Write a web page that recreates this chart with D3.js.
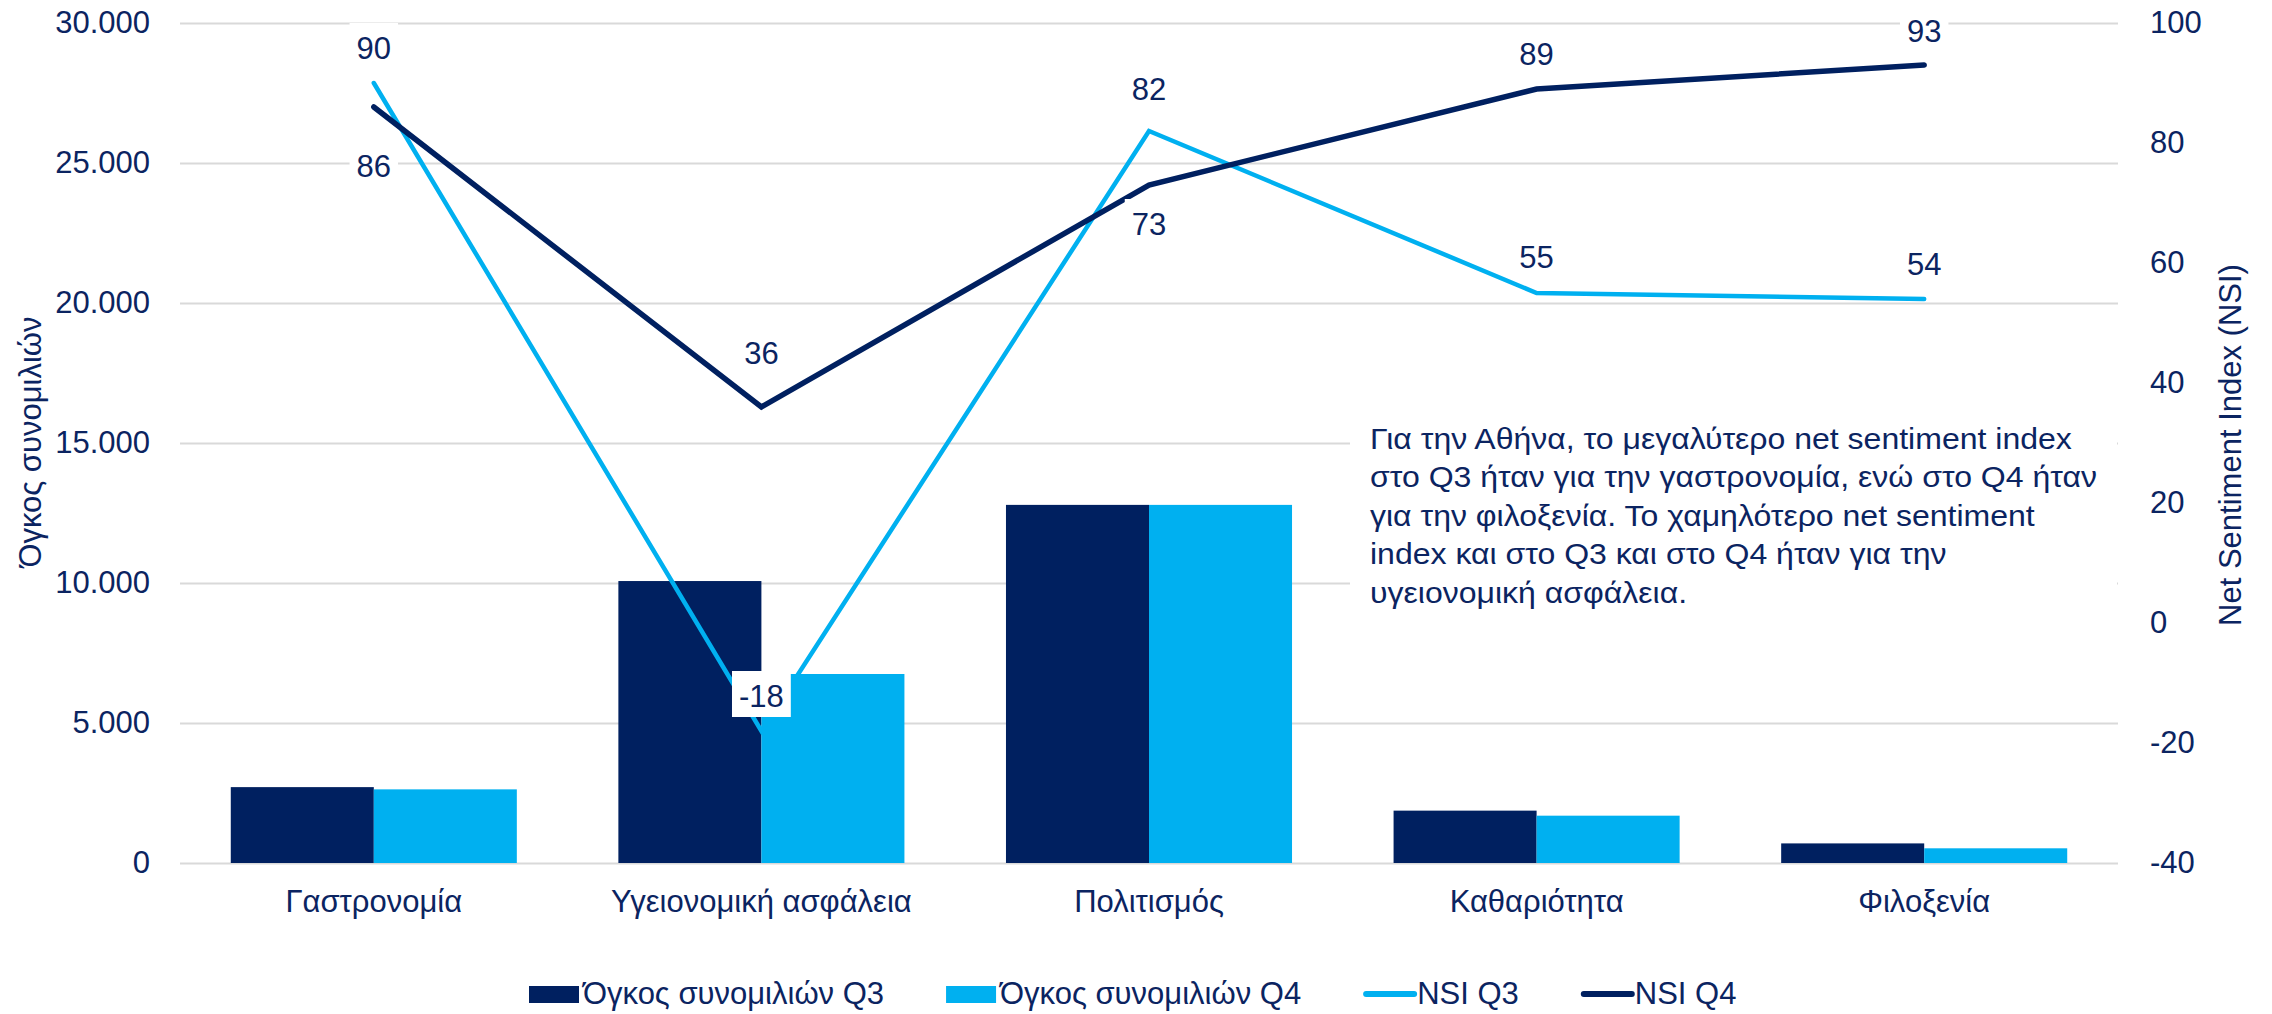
<!DOCTYPE html>
<html>
<head>
<meta charset="utf-8">
<script src="https://cdn.jsdelivr.net/npm/d3@7"></script>
<style>
  html, body { margin: 0; padding: 0; background: #ffffff; }
  svg { display: block; }
  text { font-family: "Liberation Sans", Arial, sans-serif; }
</style>
</head>
<body>
<div id="chart"></div>
<script>
// ---------- data ----------
const categories = ["Γαστρονομία", "Υγειονομική ασφάλεια", "Πολιτισμός", "Καθαριότητα", "Φιλοξενία"];
const volumeQ3 = [2710, 10070, 12790, 1870, 700];
const volumeQ4 = [2630, 6750, 12790, 1690, 525];
const nsiQ3 = [90, -18, 82, 55, 54];
const nsiQ4 = [86, 36, 73, 89, 93];
const leftTicks = [0, 5000, 10000, 15000, 20000, 25000, 30000];
const rightTicks = [-40, -20, 0, 20, 40, 60, 80, 100];
const seriesNames = ["Όγκος συνομιλιών Q3", "Όγκος συνομιλιών Q4", "NSI Q3", "NSI Q4"];
const leftTitle = "Όγκος συνομιλιών";
const rightTitle = "Net Sentiment Index (NSI)";
const annotationLines = [
  "Για την Αθήνα, το μεγαλύτερο net sentiment index",
  "στο Q3 ήταν για την γαστρονομία, ενώ στο Q4 ήταν",
  "για την φιλοξενία. Το χαμηλότερο net sentiment",
  "index και στο Q3 και στο Q4 ήταν για την",
  "υγειονομική ασφάλεια."
];

// ---------- layout / styles ----------
// label placement: baseline offset (px) from the point, as placed in the original
const nsiQ3LabelDy = [-24, -24, -31, -25, -24];
const nsiQ4LabelDy = [70, -43, 50, -24, -23];

const W = 2272, H = 1014;
const plot = { left: 180, right: 2118, top: 23, bottom: 863 };
const NAVY = "#002060";
const LIGHT = "#00B0F0";
const TEXT = "#0B2461";
const GRID = "#D9D9D9";
const FS = 31;
const FF = '"Liberation Sans", Arial, sans-serif';

const svg = d3.select("#chart").append("svg").attr("width", W).attr("height", H);

const x0 = d3.scaleBand().domain(categories).range([plot.left, plot.right]).padding(0);
const barKeys = ["q3", "q4"];
const x1 = d3.scaleBand().domain(barKeys).range([0, x0.bandwidth()]).paddingInner(0).paddingOuter(0.355);
const yL = d3.scaleLinear().domain([0, 30000]).range([plot.bottom, plot.top]);
const yR = d3.scaleLinear().domain([-40, 100]).range([plot.bottom, plot.top]);

const loc = d3.formatLocale({ decimal: ",", thousands: ".", grouping: [3], currency: ["", "€"], minus: "-" });
const fmt = loc.format(",");
const fmtInt = loc.format("d");

// gridlines (left axis)
const gridAxis = d3.axisLeft(yL).tickValues(leftTicks).tickSize(-(plot.right - plot.left)).tickFormat("");
const grid = svg.append("g").attr("transform", `translate(${plot.left},0)`).call(gridAxis);
grid.select(".domain").remove();
grid.selectAll(".tick line").attr("stroke", GRID).attr("stroke-width", 2);

// left axis labels
const leftAxis = d3.axisLeft(yL).tickValues(leftTicks).tickSize(0).tickPadding(0).tickFormat(fmt);
const la = svg.append("g").attr("transform", `translate(150,0)`).call(leftAxis);
la.select(".domain").remove();
la.selectAll("text").attr("fill", TEXT).style("font-size", FS + "px").style("font-family", FF);

// right axis labels
const rightAxis = d3.axisRight(yR).tickValues(rightTicks).tickSize(0).tickPadding(0).tickFormat(fmtInt);
const ra = svg.append("g").attr("transform", `translate(2150,0)`).call(rightAxis);
ra.select(".domain").remove();
ra.selectAll("text").attr("fill", TEXT).style("font-size", FS + "px").style("font-family", FF);

// category axis labels
const xAxis = d3.axisBottom(x0).tickSize(0).tickPadding(0);
const xa = svg.append("g").attr("transform", `translate(0,${plot.bottom})`).call(xAxis);
xa.select(".domain").remove();
xa.selectAll("text").attr("fill", TEXT).attr("dy", null).attr("y", 49)
  .style("font-size", FS + "px").style("font-family", FF);

// axis titles
svg.append("text").attr("transform", `translate(41,442) rotate(-90)`)
  .attr("text-anchor", "middle").attr("fill", TEXT).style("font-size", FS + "px").text(leftTitle);
svg.append("text").attr("transform", `translate(2241,445) rotate(-90)`)
  .attr("text-anchor", "middle").attr("fill", TEXT).style("font-size", FS + "px").text(rightTitle);

// bars
const barData = categories.map((c, i) => ({ cat: c, q3: volumeQ3[i], q4: volumeQ4[i] }));
const barColor = { q3: NAVY, q4: LIGHT };
const groups = svg.append("g").selectAll("g").data(barData).join("g")
  .attr("transform", d => `translate(${x0(d.cat)},0)`);
groups.selectAll("rect").data(d => barKeys.map(k => ({ key: k, value: d[k] }))).join("rect")
  .attr("x", d => x1(d.key)).attr("width", x1.bandwidth())
  .attr("y", d => yL(d.value)).attr("height", d => yL(0) - yL(d.value))
  .attr("fill", d => barColor[d.key]);

// annotation box (covers gridlines)
const ann = svg.append("g");
ann.append("rect").attr("x", 1350).attr("y", 408).attr("width", 767).attr("height", 212).attr("fill", "#fff");
const annText = ann.append("text").attr("fill", TEXT).style("font-size", "30px");
annotationLines.forEach((l, i) => {
  annText.append("tspan").attr("x", 0).attr("y", 449 + i * 38.5).text(l);
});
// stretch horizontally so the first line spans ~702px as in the original
const firstW = annText.select("tspan").node().getComputedTextLength();
annText.attr("transform", `translate(1370,0) scale(${702 / firstW},1)`);

// lines
const cx = c => x0(c) + x0.bandwidth() / 2;
const lineGen = d3.line().x(d => cx(d.cat)).y(d => yR(d.v));
const q3Pts = categories.map((c, i) => ({ cat: c, v: nsiQ3[i], dy: nsiQ3LabelDy[i] }));
const q4Pts = categories.map((c, i) => ({ cat: c, v: nsiQ4[i], dy: nsiQ4LabelDy[i] }));
svg.append("path").datum(q3Pts).attr("d", lineGen).attr("fill", "none")
  .attr("stroke", LIGHT).attr("stroke-width", 4.5).attr("stroke-linecap", "round").attr("stroke-linejoin", "miter");
svg.append("path").datum(q4Pts).attr("d", lineGen).attr("fill", "none")
  .attr("stroke", NAVY).attr("stroke-width", 5.5).attr("stroke-linecap", "round").attr("stroke-linejoin", "miter");

// data labels
function drawLabels(pts) {
  const g = svg.append("g");
  pts.forEach(p => {
    const lx = cx(p.cat);
    const base = yR(p.v) + p.dy;
    const lg = g.append("g");
    const rect = lg.append("rect").attr("fill", "#fff");
    const t = lg.append("text").attr("x", lx).attr("y", base).attr("text-anchor", "middle")
      .attr("fill", TEXT).style("font-size", FS + "px").text(fmtInt(p.v));
    const w = t.node().getComputedTextLength();
    rect.attr("x", lx - w / 2 - 7).attr("width", w + 14).attr("y", base - 36).attr("height", 46);
  });
}
drawLabels(q3Pts);
drawLabels(q4Pts);

// legend
const legend = svg.append("g").attr("transform", "translate(529,0)");
const legendTypes = ["rect", "rect", "line", "line"];
const legendColors = [NAVY, LIGHT, LIGHT, NAVY];
let cursor = 0;
seriesNames.forEach((name, i) => {
  const it = legend.append("g").attr("transform", `translate(${cursor},0)`);
  if (legendTypes[i] === "rect") {
    it.append("rect").attr("x", 0).attr("y", 986).attr("width", 50).attr("height", 17).attr("fill", legendColors[i]);
  } else {
    it.append("line").attr("x1", 3).attr("x2", 51).attr("y1", 994).attr("y2", 994)
      .attr("stroke", legendColors[i]).attr("stroke-width", 6).attr("stroke-linecap", "round");
  }
  const t = it.append("text").attr("x", 54).attr("y", 1004).attr("fill", TEXT).style("font-size", FS + "px").text(name);
  cursor += 54 + t.node().getComputedTextLength() + 62;
});
</script>
</body>
</html>
